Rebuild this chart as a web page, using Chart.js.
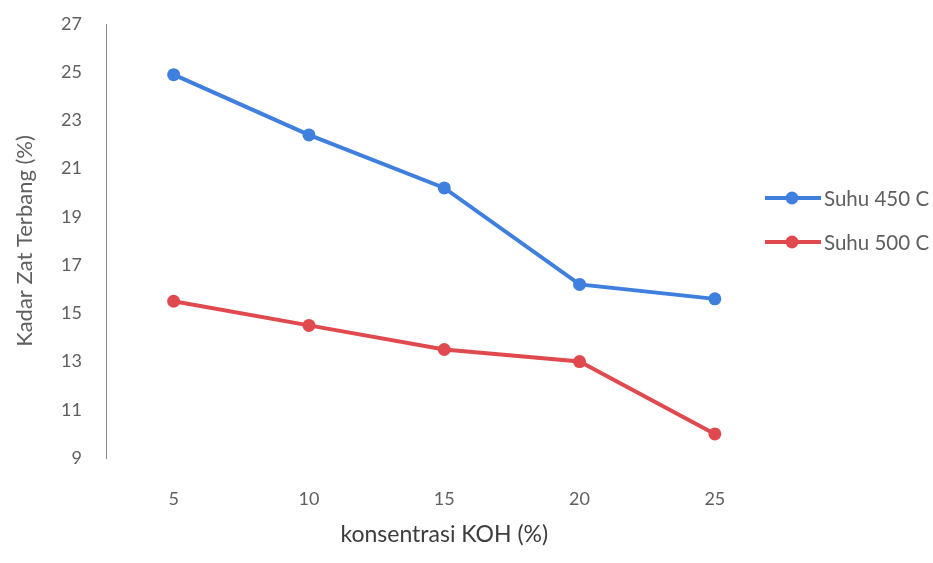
<!DOCTYPE html>
<html>
<head>
<meta charset="utf-8">
<script src="https://cdn.jsdelivr.net/npm/chart.js@4/dist/chart.umd.min.js"></script>
<style>
  html, body { margin: 0; padding: 0; background: #ffffff; }
  #wrap { width: 933px; height: 563px; position: relative; }
</style>
</head>
<body>
<div id="wrap"><canvas id="chart" width="933" height="563"></canvas></div>
<script>
// KOH concentration (%) on the x axis
const categories = ['5', '10', '15', '20', '25'];
// Volatile matter content (%) at each carbonisation temperature
const suhu450 = [24.9, 22.4, 20.2, 16.2, 15.6];
const suhu500 = [15.5, 14.5, 13.5, 13.0, 10.0];
const seriesNames = ['Suhu 450 C', 'Suhu 500 C'];

const BLUE = '#3f7fdd';
const RED = '#e04a4f';
const TEXT = '#5f5f5f';
const FONT = 'Lato, "Open Sans", sans-serif';

// Legend drawn at the right: a short line with a marker, then the label
const sideLegend = {
  id: 'sideLegend',
  afterDraw(chart) {
    const ctx = chart.ctx;
    const rows = [198, 242];
    ctx.save();
    chart.data.datasets.forEach((ds, i) => {
      const y = rows[i];
      ctx.strokeStyle = ds.borderColor;
      ctx.lineWidth = 4;
      ctx.beginPath();
      ctx.moveTo(765, y);
      ctx.lineTo(821, y);
      ctx.stroke();
      ctx.fillStyle = ds.borderColor;
      ctx.beginPath();
      ctx.arc(792, y, 6.5, 0, Math.PI * 2);
      ctx.fill();
      ctx.fillStyle = TEXT;
      ctx.font = '20.5px ' + FONT;
      ctx.textAlign = 'left';
      ctx.textBaseline = 'middle';
      ctx.fillText(ds.label, 824, y + 1);
    });
    ctx.restore();
  }
};

new Chart(document.getElementById('chart'), {
  type: 'line',
  data: {
    labels: categories,
    datasets: [
      {
        label: seriesNames[0],
        data: suhu450,
        borderColor: BLUE,
        backgroundColor: BLUE,
        borderWidth: 4,
        pointRadius: 6.5,
        pointBackgroundColor: BLUE,
        pointBorderWidth: 0,
        tension: 0
      },
      {
        label: seriesNames[1],
        data: suhu500,
        borderColor: RED,
        backgroundColor: RED,
        borderWidth: 4,
        pointRadius: 6.5,
        pointBackgroundColor: RED,
        pointBorderWidth: 0,
        tension: 0
      }
    ]
  },
  options: {
    responsive: false,
    animation: false,
    layout: { padding: { top: 24, right: 150.5, bottom: 0, left: 0 } },
    plugins: {
      legend: { display: false },
      tooltip: { enabled: false }
    },
    scales: {
      x: {
        offset: true,
        grid: { display: false, drawTicks: false },
        border: { display: false },
        ticks: {
          color: TEXT,
          font: { family: FONT, size: 18 },
          padding: 30,
          maxRotation: 0
        },
        title: {
          display: true,
          text: 'konsentrasi KOH (%)',
          color: '#3c3c3c',
          font: { family: FONT, size: 23 },
          padding: { top: 0, bottom: 15 }
        },
        afterFit(scale) { scale.height = 105; }
      },
      y: {
        min: 9,
        max: 27,
        grid: { display: false, drawTicks: false },
        border: { display: true, color: '#8a8a8a', width: 1 },
        ticks: {
          stepSize: 2,
          color: TEXT,
          font: { family: FONT, size: 18 },
          padding: 24
        },
        title: {
          display: true,
          text: 'Kadar Zat Terbang (%)',
          color: TEXT,
          font: { family: FONT, size: 22 },
          padding: { top: 12, bottom: 0 }
        },
        afterFit(scale) {
          scale.width = 106;
          // the layout padding alone sets the plot's top edge
          scale.paddingTop = 0;
          scale.paddingBottom = 0;
        }
      }
    }
  },
  plugins: [sideLegend]
});
</script>
</body>
</html>
